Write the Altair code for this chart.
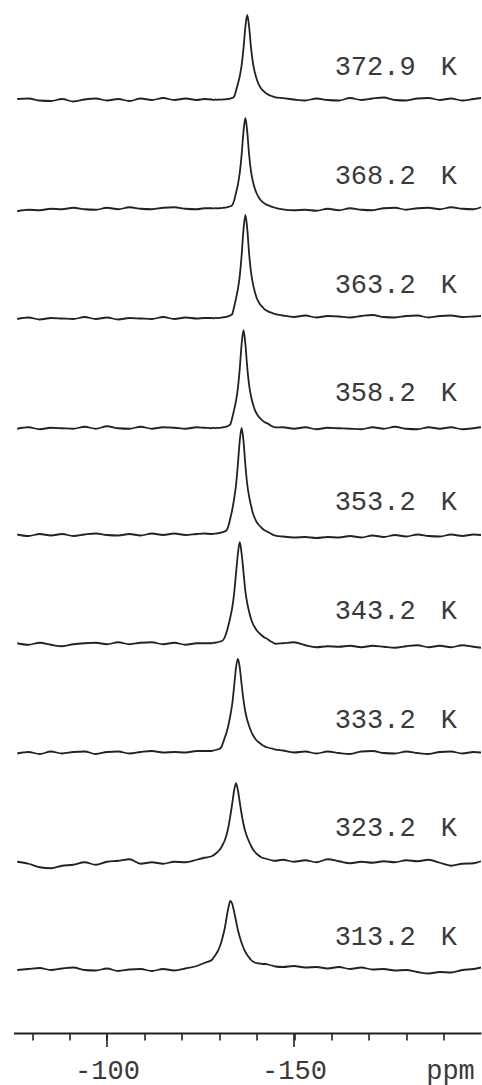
import altair as alt
import pandas as pd

# Chemical-shift grid (ppm): sparse over the baseline, 0.5 ppm steps across the peak
PPM = [
    -76, -79, -82, -85, -88, -91, -94, -97, -100, -103, -106, -109, -112, -115, -118, -121, -124, -126,
    -128.0, -128.5, -129.0, -129.5, -130.0, -130.5, -131.0, -131.5, -132.0, -132.5, -133.0, -133.5,
    -134.0, -134.5, -135.0, -135.5, -136.0, -136.5, -137.0, -137.5, -138.0, -138.5, -139.0, -139.5,
    -140.0, -140.5, -141.0, -141.5, -142.0, -142.5, -143.0, -143.5, -144.0, -144.5, -145.0,
    -147, -150, -153, -156, -159, -162, -165, -168, -171, -174, -177, -180, -183, -186, -189, -192,
    -195, -198, -200,
]

# Temperatures, bottom trace first
TEMPERATURES = ["313.2", "323.2", "333.2", "343.2", "353.2", "358.2", "363.2", "368.2", "372.9"]

# Intensities (arbitrary units) of each trace on the PPM grid
I_313_2 = [
    0, 1, 2, 0, 1.5, 2.5, 0, -0.5, 1.5, -1, 0.5, 1, -1, 1, -0.5, 1.5, 4, 7,
    10, 12.5, 15, 18, 22, 27, 34, 42, 53, 63, 69, 66, 58, 49, 40, 33, 27, 22, 18, 15, 12.5, 10,
    8.5, 7.5, 7, 6.5, 6.5, 6, 6, 6, 5.5, 5, 4.5, 4, 3.5,
    3, 4, 2.5, 3, 1.5, 3, 1, 2.5, 0.5, 1, -0.5, 0, -2, -3.5, -2, -2.5, 0, 1, 2.5,
]
I_323_2 = [
    -0.5, -2.5, -6, -7, -4.5, -3.5, -1, -3.5, -0.5, 0.5, 2, -2.5, -1, -2.5, -0.5, -1, 1.5, 3.5,
    5, 6, 7.5, 9, 11, 13.5, 17, 21, 27, 35, 46, 58, 71, 78, 71, 59, 47, 37, 29.5, 24, 19.5, 15.5,
    12, 9.5, 7.5, 6, 4.5, 3.5, 3, 2.5, 2, 1.5, 1, 0.5, 0.5,
    1.5, -0.5, 1, -1, 2, 0, -2, -0.5, -1.5, 0, -1, 1, 0, 1.5, -1.5, -4.5, -2.5, -2, 0,
]
I_333_2 = [
    -1, 0.5, -1.5, 1, -1, 0.5, 1, -1.5, 0.5, 1, -1, 0.5, 1.5, 0, 0.5, 0, 1.5, 1.5,
    1.5, 2, 2.5, 3, 3.5, 5, 9.5, 15, 20.5, 28, 37.5, 49, 66.5, 85, 93.5, 85, 68, 52.5, 40.5, 32.5,
    26.5, 21.5, 17.5, 14.5, 12, 10.5, 9, 7.5, 6.5, 5.5, 5, 4.5, 4, 3.5, 3,
    2, 0, 1, -1, 1, -0.5, -1.5, 1, 1.5, -0.5, -1, 1, -0.5, -1.5, 0.5, 1, -1, 0.5, 0,
]
I_343_2 = [
    0.5, -1, 1, -1, -2.5, -0.5, 0.5, 1, -0.5, 1.5, -0.5, 1, 1.5, -0.5, 1, -1, 0.5, 0.5,
    0.5, 1, 1, 1.5, 2, 2.5, 3.5, 6.5, 12, 19, 27, 36.5, 50.5, 70.5, 90, 101.5, 90, 71.5, 52.5, 40.5,
    32, 25, 20, 16.5, 13.5, 11.5, 9.5, 8, 6.5, 5.5, 4.5, 3, 2, 1, 0,
    0.5, 1.5, -1.5, -3.5, -2.5, -3, -2, -3.5, -2, -3, -4, -2.5, -1.5, -3.5, -2, -3.5, -1.5, -3, -4,
]
I_353_2 = [
    0.5, -1, 1, -0.5, 1, -1, 0.5, 1.5, 0, -0.5, 1, -0.5, 1.5, 0, 1.5, 0, 1, 1.5,
    1, 1.1, 1.4, 1.6, 2, 2.3, 2.9, 3.6, 4.9, 9.6, 17, 25.5, 36.5, 50, 71, 94.5, 107, 94, 70, 50.5,
    38.5, 29.5, 22, 17, 13, 10.5, 8.5, 6.5, 5, 4, 3, 2, 1, 0, -0.5,
    -1.5, -2.5, -2, -3, -2, -2.5, -1, -2.5, -0.5, -2, 0, -1.5, 0.5, -1, -1.5, 0.5, -1, 0.5, 0,
]
I_358_2 = [
    -2.5, -1, -3, -1.5, -2, -2.5, -0.5, -2.5, 0, -2, -2.5, -0.5, -2.5, -1, -1.5, -2.5, -1, -1.5,
    -2, -1.5, -2, -1.5, -1.7, -1.4, -1.1, -0.8, -0.2, 0.5, 2, 8.8, 16.6, 25.4, 38.2, 57.8, 82.3, 96,
    82.3, 58.8, 41.1, 30.3, 22.5, 16.6, 12.7, 9.8, 7.8, 5.8, 4.4, 3.4, 2.6, 1.4, 0.3, -0.6, -1.2,
    -1, -2.5, -1, -3, -1.5, -2, -2.5, -3, -1, -2.5, -0.5, -2.5, -3, -1, -2.5, -1, -3, -2, -1,
]
I_363_2 = [
    -1.5, 0, -2, -0.5, -1, -1.5, 0.5, -1.5, 0, -2, -0.5, -1, -1.5, 0.5, -1.5, 0, -1, -0.5,
    -0.5, -0.8, -0.3, -0.6, -0.4, -0.2, 0.1, 0.4, 0.7, 1.4, 2.1, 3.6, 10.8, 19.1, 28.3, 41.7, 62.3,
    88.1, 102.5, 88.6, 64, 45.5, 34.2, 26, 19.8, 15.8, 12.8, 10.8, 8.7, 7.3, 6.3, 5.4, 4.8, 4, 3.4,
    2, 0.5, 2, 0, 1.5, 1, 0, 1.5, 2.5, 0.5, 0, 1.5, 2, 0, 1.5, 2, 0.5, 1, 1.5,
]
I_368_2 = [
    -2.5, -1, -1.5, 0, -0.5, 1, -0.5, -1, 1, -0.5, 1.5, 0, -0.5, 1, 1.5, 0, -0.5, 0.5,
    0.5, 0.3, 0.6, 0.4, 0.5, 0.6, 0.9, 1.1, 1.4, 1.9, 2.5, 3.7, 8.2, 16, 24.2, 36, 54.2, 77.4, 90.75,
    76.9, 54, 37.5, 27.5, 20.5, 15.5, 11.8, 9, 7.2, 5.6, 4.4, 3.6, 2.8, 2.2, 1.5, 0.9,
    -0.6, -1.5, -1, -2, 0, -1.5, 0.5, -1, -1.5, 0.5, 1, -1, 0.5, 1, -0.5, 1.5, 0, -0.5, 1.5,
]
I_372_9 = [
    1, 1.5, -0.5, -1, 1, -1.5, 0.5, 1.5, -0.5, 1, -1, 1.5, 0, 2, 0, 1.5, 0, 1,
    0.5, 0, 0.5, 0.2, 0.5, 0.3, 0.5, 0.7, 0.8, 1, 1.5, 2.1, 3.4, 9.3, 16.2, 23.8, 34.8, 51.8, 73,
    85, 73, 52.8, 37.5, 28, 21.2, 16.2, 12.8, 10.2, 8.5, 6.8, 5.6, 4.7, 4, 3.4, 2.7,
    1.9, 0.5, -0.5, 1.5, 0, -0.5, 2, 0, 1.5, 2.5, 0, -0.5, 1.5, 2, 0, 1.5, -0.5, 1, 2,
]

SPECTRA = [I_313_2, I_323_2, I_333_2, I_343_2, I_353_2, I_358_2, I_363_2, I_368_2, I_372_9]

# Axis ticks (ppm)
MINOR_TICKS = [-80, -90, -100, -110, -120, -130, -140, -150, -160, -170, -180, -190]
MAJOR_TICKS = [-100, -150]

# Stacking of the traces and placement of the temperature labels
STACK_BASE = 63.0
STACK_STEP = 108.75
LABEL_RISE = 33.0
LABEL_NUM_PPM = -171.7
LABEL_UNIT_PPM = -191.4

INK = "#222222"
TEXT = "#3a3a3a"
MONO = "Liberation Mono"
PLOT_W = 467.5
PLOT_H = 1033

for arr in SPECTRA:
    assert len(arr) == len(PPM), len(arr)

rows = []
for i, (temp, vals) in enumerate(zip(TEMPERATURES, SPECTRA)):
    base = STACK_BASE + i * STACK_STEP
    for p, v in zip(PPM, vals):
        rows.append({"temp": temp, "ppm": p, "y": base + v})
spec_df = pd.DataFrame(rows)

label_y = [STACK_BASE + i * STACK_STEP + LABEL_RISE for i in range(len(TEMPERATURES))]
num_df = pd.DataFrame({
    "label": TEMPERATURES,
    "ppm": [LABEL_NUM_PPM] * len(TEMPERATURES),
    "y": label_y,
})
unit_df = pd.DataFrame({
    "label": ["K"] * len(TEMPERATURES),
    "ppm": [LABEL_UNIT_PPM] * len(TEMPERATURES),
    "y": label_y,
})
major_df = pd.DataFrame({"ppm": MAJOR_TICKS})

x_scale = alt.Scale(domain=[-200, -75], reverse=True, nice=False, zero=False)
y_scale = alt.Scale(domain=[0, PLOT_H], nice=False, zero=False)

x_axis = alt.Axis(
    values=MINOR_TICKS,
    tickSize=7,
    tickWidth=1.6,
    tickColor=INK,
    domainColor=INK,
    domainWidth=1.8,
    grid=False,
    labelExpr="datum.value == -100 || datum.value == -150 ? '-' + abs(datum.value) : ''",
    labelFont=MONO,
    labelFontSize=27,
    labelColor=TEXT,
    labelBaseline="alphabetic",
    labelPadding=38,
    labelOverlap=False,
    labelFlush=False,
    title="ppm",
    titleFont=MONO,
    titleFontSize=27,
    titleFontWeight="normal",
    titleColor=TEXT,
    titleX=436.5,
    titleY=45,
    titleAlign="center",
    titleBaseline="alphabetic",
)

X = alt.X("ppm:Q", scale=x_scale, axis=x_axis)
Y = alt.Y("y:Q", scale=y_scale, axis=None)

# Monotone interpolation keeps each apex on its sample while rounding the noise
lines = alt.Chart(spec_df).mark_line(
    color=INK, strokeWidth=1.8, strokeJoin="round", interpolate="monotone"
).encode(x=X, y=Y, detail="temp:N")

major = alt.Chart(major_df).mark_rule(color=INK, strokeWidth=1.6).encode(
    x=X, y=alt.value(PLOT_H), y2=alt.value(PLOT_H + 14)
)

nums = alt.Chart(num_df).mark_text(
    font=MONO, fontSize=27, color=TEXT, align="center", baseline="middle"
).encode(x=X, y=Y, text="label:N")

units = alt.Chart(unit_df).mark_text(
    font=MONO, fontSize=27, color=TEXT, align="center", baseline="middle"
).encode(x=X, y=Y, text="label:N")

chart = alt.layer(lines, major, nums, units).properties(
    width=PLOT_W,
    height=PLOT_H,
    padding={"left": 13.5, "right": 1, "top": 0, "bottom": 52},
    autosize=alt.AutoSizeParams(type="none"),
    background="white",
).configure_view(stroke=None)

chart.save("out.html", embed_options={"renderer": "svg", "actions": False})
